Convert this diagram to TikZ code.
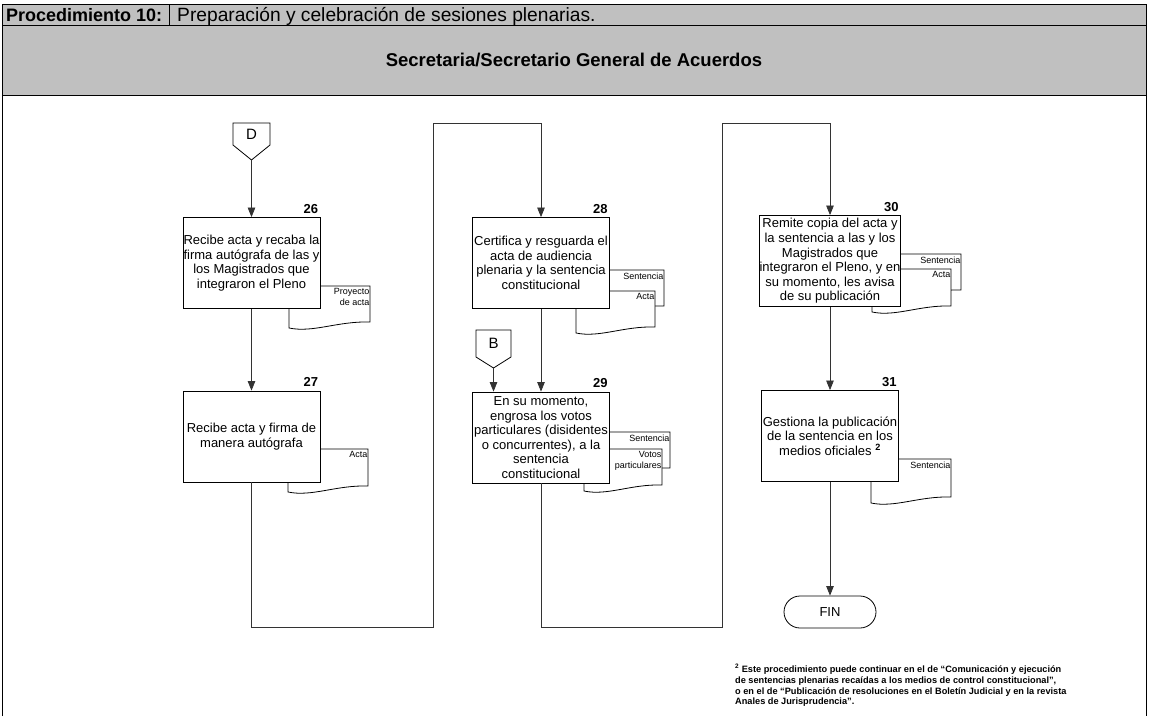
\documentclass[tikz,border=0pt]{standalone}
\usepackage{fontspec}
\setmainfont{Liberation Sans}
\usetikzlibrary{arrows.meta}
\definecolor{bandgray}{HTML}{C0C0C0}

\tikzset{
  proc/.style={draw=black, line width=0.8pt, fill=white, minimum width=137pt,
    minimum height=91pt, inner sep=0pt, align=center,
    font=\fontsize{13}{14.6}\selectfont},
  stepnum/.style={anchor=base east, inner sep=0pt,
    font=\bfseries\fontsize{13}{13}\selectfont},
  conn/.style={draw=black!80, line width=0.75pt},
  flow/.style={conn, -{Triangle[width=7.5pt,length=9.5pt]}},
  doclabel/.style={anchor=north east, inner sep=0pt, align=right,
    font=\fontsize{9}{11}\selectfont},
  sheet/.style={draw=black, line width=0.8pt, fill=white},
  offpg/.style={draw=black, line width=0.8pt, fill=white},
}

% document symbol: left, top, right, bottom (right end of the wavy edge), name, label
\newcommand{\docsheet}[6]{%
  \path[sheet] (#1,#2) -- (#3,#2) -- (#3,#4)
    .. controls ({#3-0.4*(#3-#1)},{#4-1}) and ({#1+0.3*(#3-#1)},{#4+11}) ..
    (#1,{#4+6}) -- cycle;
  \node[doclabel] (#5) at ({#3-0.5},{#2+2.5}) {#6};
}

\begin{document}
\begin{tikzpicture}[x=1pt, y=-1pt]
  \useasboundingbox (0,0) rectangle (1149,716);
  \fill[white] (0,0) rectangle (1149,716);

  % header band and frame
  \fill[bandgray] (2,4) rectangle (1146,95);
  \draw[line width=0.8pt] (2,716) -- (2,4) -- (1146,4) -- (1146,716);
  \draw[line width=0.8pt] (2,25) -- (1146,25);
  \draw[line width=0.8pt] (2,95) -- (1146,95);
  \draw[line width=0.8pt] (169,4) -- (169,25);
  \node[anchor=base west, inner sep=0pt, font=\bfseries\fontsize{18}{18}\selectfont]
    (proc) at (6,21) {Procedimiento 10:};
  \node[anchor=base west, inner sep=0pt, font=\fontsize{19.2}{19.2}\selectfont]
    (procname) at (177,21) {Preparación y celebración de sesiones plenarias.};
  \node[anchor=base, inner sep=0pt, font=\bfseries\fontsize{18.5}{18.5}\selectfont]
    (lane) at (574,66.5) {Secretaria/Secretario General de Acuerdos};

  % documents attached to the activities
  \docsheet{289}{286}{370}{322}{d26}{Proyecto\\de acta}
  \docsheet{288}{449}{368}{486}{d27}{Acta}
  \docsheet{585}{270}{664}{306}{d28a}{Sentencia}
  \docsheet{576}{291}{655}{327}{d28b}{Acta}
  \docsheet{590}{432}{670}{468}{d29a}{Sentencia}
  \docsheet{584}{449}{662}{485}{d29b}{Votos\\particulares}
  \docsheet{880}{254}{961}{290}{d30a}{Sentencia}
  \docsheet{872}{269}{951}{306}{d30b}{Acta}
  \docsheet{871}{459}{951}{497}{d31}{Sentencia}

  % activities
  \node[proc] (b26) at (251.5,263) {Recibe acta y recaba la\\firma autógrafa de las y\\los Magistrados que\\integraron el Pleno};
  \node[proc] (b27) at (251.5,436.5) {Recibe acta y firma de\\manera autógrafa};
  \node[proc] (b28) at (541,263) {Certifica y resguarda el\\acta de audiencia\\plenaria y la sentencia\\constitucional};
  \node[proc] (b29) at (541,437.5) {En su momento,\\engrosa los votos\\particulares (disidentes\\o concurrentes), a la\\sentencia\\constitucional};
  \node[proc] (b30) at (830,261) {Remite copia del acta y\\la sentencia a las y los\\Magistrados que\\integraron el Pleno, y en\\su momento, les avisa\\de su publicación};
  \node[proc] (b31) at (830,436) {Gestiona la publicación\\de la sentencia en los\\medios oficiales \textsuperscript{\bfseries 2}};

  \foreach \b/\n in {b26/26, b27/27, b28/28, b29/29, b30/30, b31/31}
    \node[stepnum] (n\n) at ([xshift=-2pt, yshift=4pt]\b.north east) {\n};

  % off-page connectors
  \path[offpg] (233,123) -- (270,123) -- (270,145) -- (251.5,160) -- (233,145) -- cycle;
  \node[font=\fontsize{15}{15}\selectfont, inner sep=0pt] (D) at (251.5,134.5) {D};
  \coordinate (Dtip) at (251.5,160);
  \path[offpg] (476,330) -- (511,330) -- (511,357) -- (493.5,368) -- (476,357) -- cycle;
  \node[font=\fontsize{15}{15}\selectfont, inner sep=0pt] (B) at (493.5,343.5) {B};
  \coordinate (Btip) at (493.5,368);

  % terminator
  \node[draw=black, line width=0.8pt, rounded corners=16pt, minimum width=92pt,
    minimum height=32pt, inner sep=0pt, font=\fontsize{13}{13}\selectfont]
    (fin) at (830,612) {FIN};

  % turning points of the connectors between columns
  \coordinate (l1low) at (433,627);
  \coordinate (l1top) at (433,123);
  \coordinate (l2low) at (722,627);
  \coordinate (l2top) at (722,123);

  % connectors
  \draw[flow] (Dtip) -- (b26.north);
  \draw[flow] (b26.south) -- (b27.north);
  \draw[flow] (b27.south) |- (l1low) -- (l1top) -| (b28.north);
  \draw[flow] (b28.south) -- (b29.north);
  \draw[flow] (Btip) -- (Btip |- b29.north);
  \draw[flow] (b29.south) |- (l2low) -- (l2top) -| (b30.north);
  \draw[flow] (b30.south) -- (b31.north);
  \draw[flow] (b31.south) -- (fin.north);

  % footnote
  \node[anchor=north west, inner sep=0pt, align=left,
    font=\bfseries\fontsize{9.2}{10.8}\selectfont] (note) at (735,664)
    {\textsuperscript{2} Este procedimiento puede continuar en el de “Comunicación y ejecución\\
     de sentencias plenarias recaídas a los medios de control constitucional”,\\
     o en el de “Publicación de resoluciones en el Boletín Judicial y en la revista\\
     Anales de Jurisprudencia”.};
\end{tikzpicture}
\end{document}
